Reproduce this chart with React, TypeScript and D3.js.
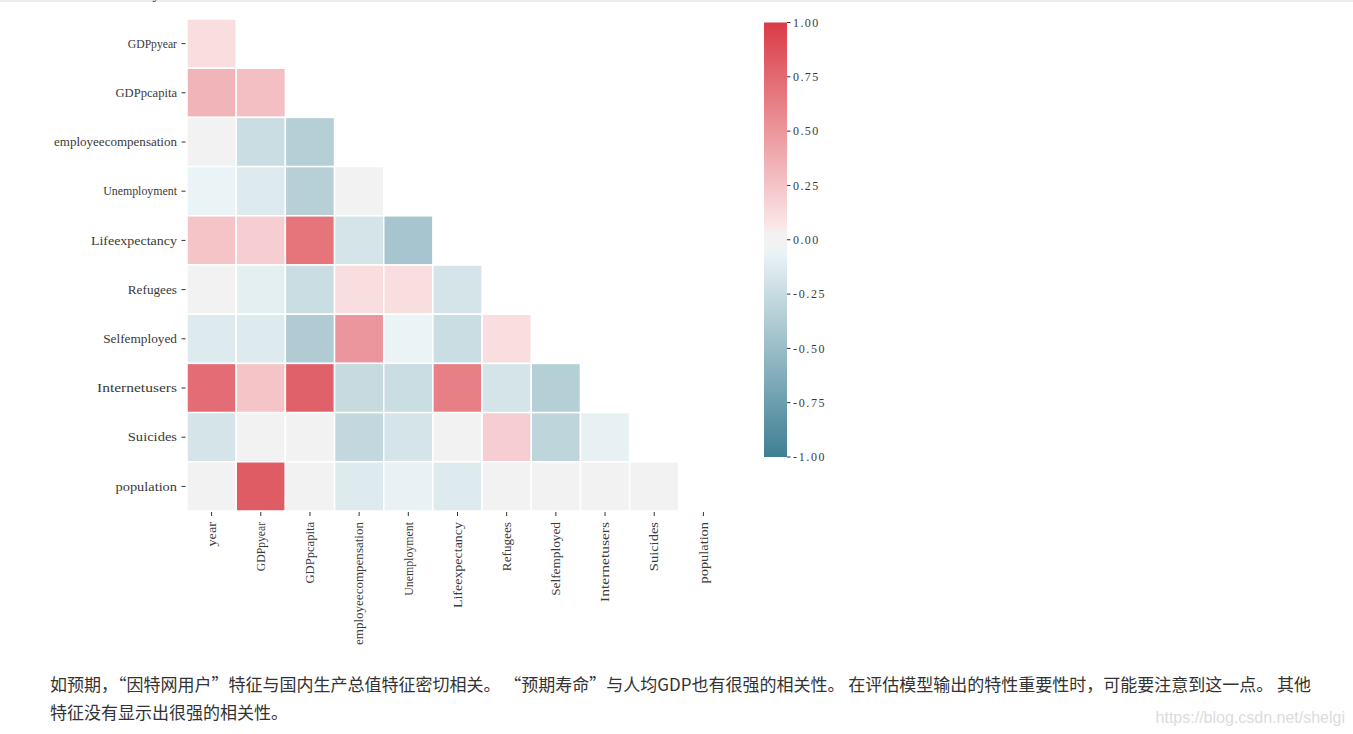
import React from "react";
import * as d3 from "d3";

const columns = ["year", "GDPpyear", "GDPpcapita", "employeecompensation", "Unemployment", "Lifeexpectancy", "Refugees", "Selfemployed", "Internetusers", "Suicides", "population"];

// lower-triangle correlation values (row i, columns 0..i-1)
const rowYear: number[] = [];
const rowGDPpyear = [0.11];
const rowGDPpcapita = [0.34, 0.28];
const rowEmployeecompensation = [0.0, -0.24, -0.35];
const rowUnemployment = [-0.06, -0.13, -0.34, 0.01];
const rowLifeexpectancy = [0.25, 0.2, 0.69, -0.18, -0.43];
const rowRefugees = [0.01, -0.09, -0.24, 0.11, 0.11, -0.18];
const rowSelfemployed = [-0.13, -0.13, -0.38, 0.5, -0.06, -0.24, 0.11];
const rowInternetusers = [0.73, 0.25, 0.79, -0.26, -0.24, 0.63, -0.18, -0.35];
const rowSuicides = [-0.18, 0.0, 0.0, -0.28, -0.18, 0.0, 0.2, -0.3, -0.075];
const rowPopulation = [0.0, 0.82, 0.0, -0.13, -0.07, -0.13, 0.0, 0.0, 0.0, 0.0];

const rows = [rowYear, rowGDPpyear, rowGDPpcapita, rowEmployeecompensation, rowUnemployment, rowLifeexpectancy, rowRefugees, rowSelfemployed, rowInternetusers, rowSuicides, rowPopulation];

const colorbarTicks = [1, 0.75, 0.5, 0.25, 0, -0.25, -0.5, -0.75, -1];

const paragraphLine1 = "如预期，“因特网用户”特征与国内生产总值特征密切相关。 “预期寿命”与人均GDP也有很强的相关性。 在评估模型输出的特性重要性时，可能要注意到这一点。 其他";
const paragraphLine2 = "特征没有显示出很强的相关性。";
const watermark = "https://blog.csdn.net/shelgi";

// seaborn diverging_palette(220, 10, sep=10) approximation (RGB blend)
const cmap = d3
  .scaleLinear<string>()
  .domain([0, 122 / 255, 123 / 255, 132 / 255, 133 / 255, 1])
  .range(["#3f7f93", "#edf5f7", "#f2f2f2", "#f2f2f2", "#fbeaeb", "#da3b46"])
  .interpolate(d3.interpolateRgb)
  .clamp(true);
const colorOf = (v: number) => cmap((v + 1) / 2);

const labelFont = "'Liberation Serif', 'DejaVu Serif', serif";

export default function App() {
  const x = d3.scaleBand<string>().domain(columns).range([187, 728]);
  const cellH = (511 - 19) / 10;
  const y = d3.scaleBand<string>().domain(columns).range([19 - cellH, 511]);
  const cb = d3.scaleLinear().domain([-1, 1]).range([457, 22.5]);

  const cells: { r: string; c: string; v: number }[] = [];
  rows.forEach((vals, i) => {
    vals.forEach((v, j) => cells.push({ r: columns[i], c: columns[j], v }));
  });

  const gradStops = d3.range(0, 1.0001, 1 / 64);
  const charW = 6.15;

  return (
    <div style={{ position: "absolute", left: 0, top: 0 }}>
      <svg width={1353} height={734} style={{ display: "block", background: "#fff" }}>
        <defs>
          <linearGradient id="cbgrad" x1="0" y1="1" x2="0" y2="0">
            {gradStops.map((t) => (
              <stop key={t} offset={t} stopColor={cmap(t)} />
            ))}
          </linearGradient>
        </defs>
        <line x1={0} x2={1353} y1={1} y2={1} stroke="#ececec" strokeWidth={2} />
        {/* cells */}
        {cells.map((d) => (
          <rect
            key={d.r + "-" + d.c}
            x={x(d.c)!}
            y={y(d.r)!}
            width={x.bandwidth()}
            height={y.bandwidth()}
            fill={colorOf(d.v)}
            stroke="#fff"
            strokeWidth={1.5}
          />
        ))}
        {/* row labels */}
        {columns.map((c) => {
          const cy = y(c)! + y.bandwidth() / 2;
          return (
            <g key={"r" + c}>
              <line x1={181.5} x2={185.5} y1={cy} y2={cy} stroke="#333" strokeWidth={1} />
              <text
                x={177}
                y={cy}
                dy="0.35em"
                textAnchor="end"
                fontFamily={labelFont}
                fontSize={12}
                fill="#3a3a3a"
                textLength={c.length * charW}
                lengthAdjust="spacingAndGlyphs"
              >
                {c}
              </text>
            </g>
          );
        })}
        {/* column labels */}
        {columns.map((c) => {
          const cx = x(c)! + x.bandwidth() / 2;
          return (
            <g key={"c" + c}>
              <line x1={cx} x2={cx} y1={512} y2={516} stroke="#333" strokeWidth={1} />
              <text
                transform={`translate(${cx},522) rotate(-90)`}
                dy="0.35em"
                textAnchor="end"
                fontFamily={labelFont}
                fontSize={12}
                fill="#3a3a3a"
                textLength={c.length * charW}
                lengthAdjust="spacingAndGlyphs"
              >
                {c}
              </text>
            </g>
          );
        })}
        {/* colorbar */}
        <rect x={764} y={cb(1)} width={23} height={cb(-1) - cb(1)} fill="url(#cbgrad)" />
        {colorbarTicks.map((t) => {
          const label = t < 0 ? "-" + Math.abs(t).toFixed(2) : t.toFixed(2);
          return (
            <g key={"cb" + t}>
              <line x1={787} x2={790.5} y1={cb(t)} y2={cb(t)} stroke="#333" strokeWidth={1} />
              <text
                x={793}
                y={cb(t)}
                dy="0.35em"
                fontFamily={labelFont}
                fontSize={12}
                fill="#3a3a3a"
                textLength={label.length * 6.3}
                lengthAdjust="spacing"
              >
                {label}
              </text>
            </g>
          );
        })}
        {/* paragraph */}
        <text x={50} y={691} fontFamily="'Noto Sans CJK SC', sans-serif" fontSize={17} fill="#333">
          {paragraphLine1}
        </text>
        <text x={50} y={719} fontFamily="'Noto Sans CJK SC', sans-serif" fontSize={17} fill="#333">
          {paragraphLine2}
        </text>
        <text x={1345} y={723} textAnchor="end" fontFamily="'Liberation Sans', Arial, sans-serif" fontSize={16} fill="#dcdcdc">
          {watermark}
        </text>
      </svg>
    </div>
  );
}
